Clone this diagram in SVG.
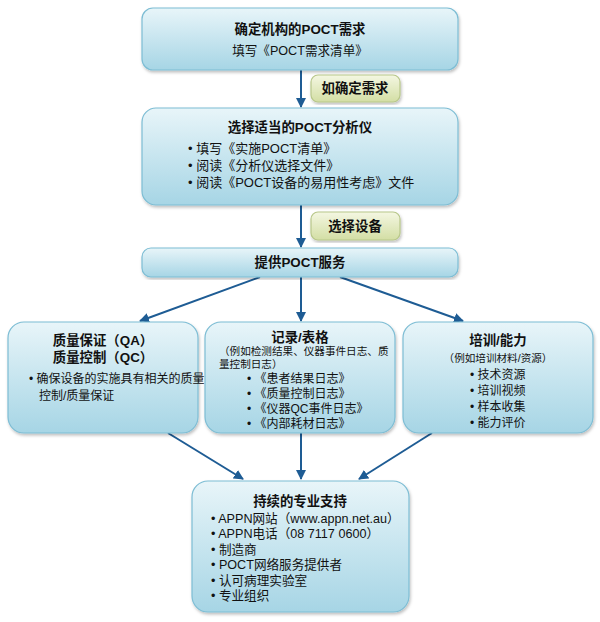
<svg xmlns="http://www.w3.org/2000/svg" width="600" height="622" viewBox="0 0 600 622">
<defs>
<linearGradient id="gb" x1="0" y1="0" x2="0" y2="1">
<stop offset="0" stop-color="#e8f5f9"/>
<stop offset="1" stop-color="#a6d5e5"/>
</linearGradient>
<linearGradient id="gg" x1="0" y1="0" x2="0" y2="1">
<stop offset="0" stop-color="#f4f7e2"/>
<stop offset="1" stop-color="#d3dea4"/>
</linearGradient>
<filter id="sh" x="-5%" y="-5%" width="110%" height="115%">
<feDropShadow dx="1" dy="2" stdDeviation="1.5" flood-color="#000" flood-opacity="0.25"/>
</filter>
<marker id="ah" viewBox="0 0 10 10" refX="9" refY="5" markerWidth="5" markerHeight="5" orient="auto">
<path d="M0,0 L10,5 L0,10 z" fill="#1e5c94"/>
</marker>
</defs>
<style>
.box{fill:url(#gb);stroke:#7dbdd4;stroke-width:1.2;filter:url(#sh)}
.lab{fill:url(#gg);stroke:#b8c78a;stroke-width:1.2;filter:url(#sh)}
text{font-family:"Liberation Sans","Noto Sans CJK SC",sans-serif;font-size:12px;fill:#111}
.t{font-weight:bold;font-size:13.4px}
.c{text-anchor:middle}
.s{font-size:10.6px}
.m{font-size:12.6px}
.b{font-size:13px}
.ar{stroke:#1e5c94;stroke-width:2;fill:none;marker-end:url(#ah)}
</style>
<g id="connectors">
<line class="ar" x1="301" y1="70" x2="301" y2="107"/>
<line class="ar" x1="301" y1="205" x2="301" y2="247"/>
<line class="ar" x1="260" y1="277" x2="140" y2="321"/>
<line class="ar" x1="301" y1="277" x2="301" y2="321"/>
<line class="ar" x1="340" y1="277" x2="463" y2="321"/>
<line class="ar" x1="168" y1="433" x2="243" y2="479"/>
<line class="ar" x1="301" y1="433" x2="301" y2="479"/>
<line class="ar" x1="432" y1="433" x2="359" y2="479"/>
</g>
<g id="n1">
<rect class="box" x="142" y="8" width="316" height="62" rx="11"/>
<text class="t c" x="300" y="34">确定机构的POCT需求</text>
<text class="m c" x="300" y="55">填写《POCT需求清单》</text>
</g>
<g id="l1">
<rect class="lab" x="311" y="75" width="89" height="27" rx="7"/>
<text class="t c" x="355" y="93">如确定需求</text>
</g>
<g id="n2">
<rect class="box" x="142" y="108" width="316" height="97" rx="14"/>
<text class="t c" x="300" y="132">选择适当的POCT分析仪</text>
<text class="b" x="188" y="153">• 填写《实施POCT清单》</text>
<text class="b" x="188" y="170">• 阅读《分析仪选择文件》</text>
<text class="b" x="188" y="187">• 阅读《POCT设备的易用性考虑》文件</text>
</g>
<g id="l2">
<rect class="lab" x="311" y="212" width="89" height="28" rx="7"/>
<text class="t c" x="355" y="231">选择设备</text>
</g>
<g id="n3">
<rect class="box" x="142" y="248" width="316" height="29" rx="9"/>
<text class="t c" x="300" y="267">提供POCT服务</text>
</g>
<g id="n4">
<rect class="box" x="8" y="322" width="190" height="111" rx="16"/>
<text class="t c" x="103" y="345">质量保证（QA）</text>
<text class="t c" x="103" y="362">质量控制（QC）</text>
<text x="29" y="383">• 确保设备的实施具有相关的质量</text>
<text x="39" y="400">控制/质量保证</text>
</g>
<g id="n5">
<rect class="box" x="205" y="322" width="190" height="111" rx="16"/>
<text class="t c" x="300" y="342">记录/表格</text>
<text class="s" x="219" y="355">（例如检测结果、仪器事件日志、质</text>
<text class="s" x="219" y="368">量控制日志）</text>
<text x="247" y="383">• 《患者结果日志》</text>
<text x="247" y="398">• 《质量控制日志》</text>
<text x="247" y="413">• 《仪器QC事件日志》</text>
<text x="247" y="428">• 《内部耗材日志》</text>
</g>
<g id="n6">
<rect class="box" x="403" y="322" width="190" height="111" rx="16"/>
<text class="t c" x="498" y="345">培训/能力</text>
<text class="s c" x="498" y="362">（例如培训材料/资源）</text>
<text x="470" y="379">• 技术资源</text>
<text x="470" y="395">• 培训视频</text>
<text x="470" y="411">• 样本收集</text>
<text x="470" y="427">• 能力评价</text>
</g>
<g id="n7">
<rect class="box" x="192" y="481" width="217" height="131" rx="16"/>
<text class="t c" x="300" y="506">持续的专业支持</text>
<text class="m" x="211" y="523">• APPN网站（www.appn.net.au）</text>
<text class="m" x="211" y="538">• APPN电话（08 7117 0600）</text>
<text class="m" x="211" y="554">• 制造商</text>
<text class="m" x="211" y="569">• POCT网络服务提供者</text>
<text class="m" x="211" y="585">• 认可病理实验室</text>
<text class="m" x="211" y="600">• 专业组织</text>
</g>
</svg>
